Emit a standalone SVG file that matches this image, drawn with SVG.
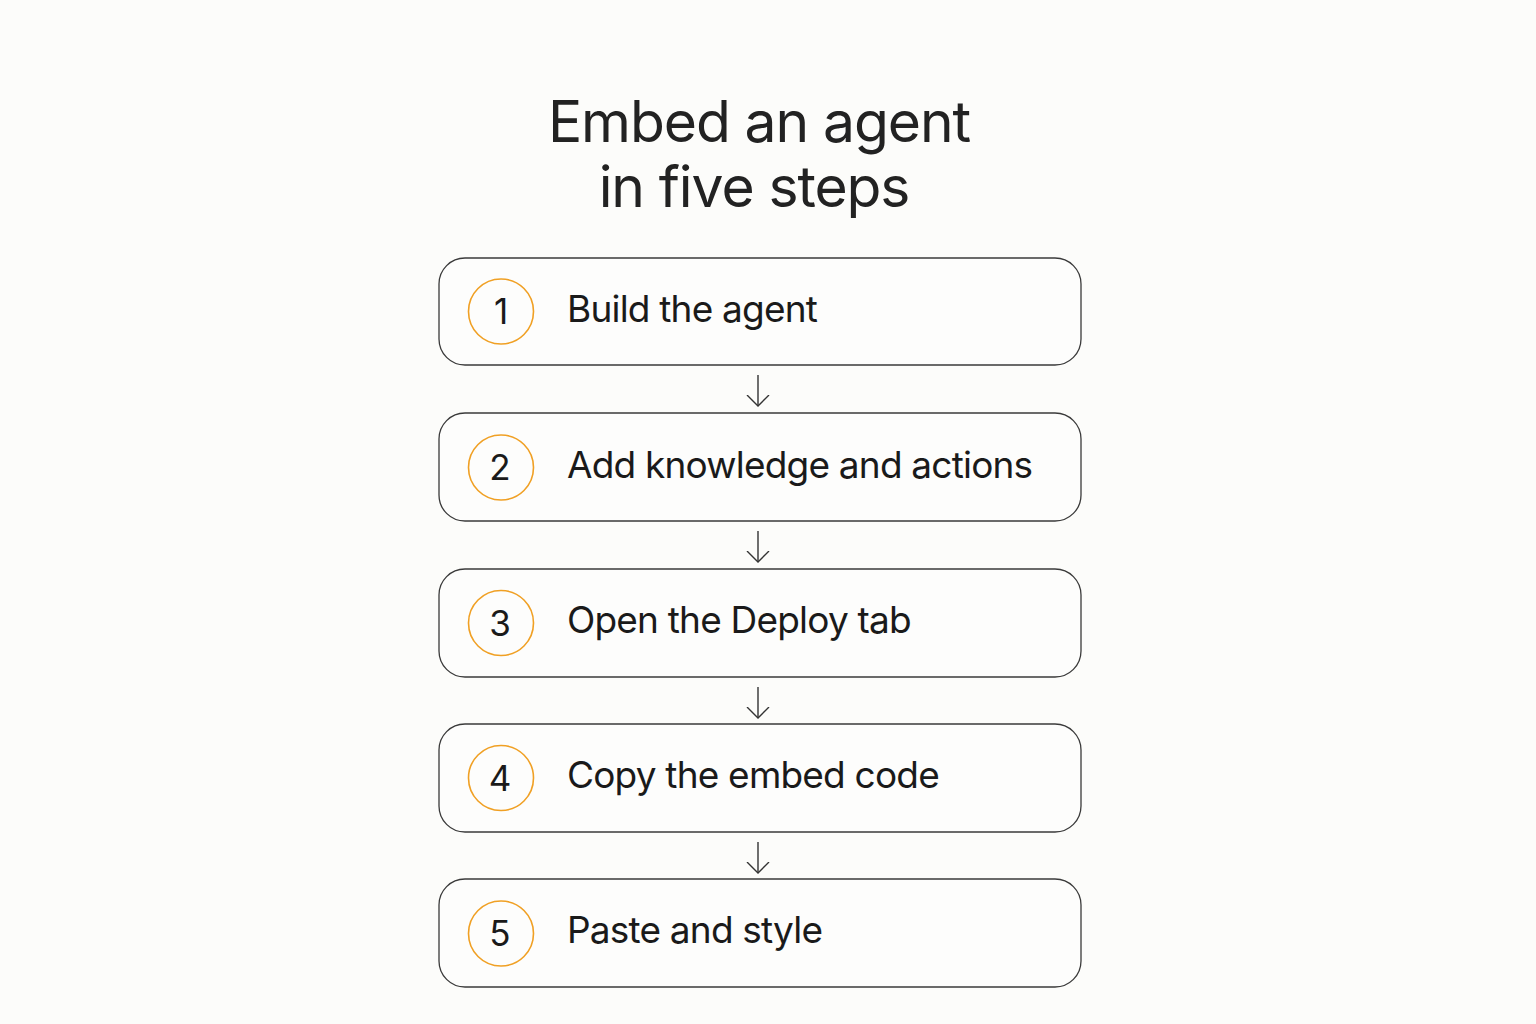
<svg xmlns="http://www.w3.org/2000/svg" width="1536" height="1024" viewBox="0 0 1536 1024">
<defs>
<style>
.title{font-family:Inter,"Liberation Sans",sans-serif;font-size:57px;fill:#222;text-anchor:middle;letter-spacing:-1.1px}
.box{fill:#fdfdfc;stroke:#3a3a3a;stroke-width:1.3}
.num{fill:none;stroke:#f0a024;stroke-width:1.6}
.digit{font-family:Inter,"Liberation Sans",sans-serif;font-size:35px;fill:#1a1a1a;text-anchor:middle}
.label{font-family:Inter,"Liberation Sans",sans-serif;font-size:37px;fill:#1a1a1a;letter-spacing:-0.8px}
.conn{fill:none;stroke:#333;stroke-width:1.4}
</style>
<marker id="arr" markerWidth="24" markerHeight="26" refX="11" refY="12" orient="auto" markerUnits="userSpaceOnUse">
<path d="M0,1 L11,12 L0,23" fill="none" stroke="#333" stroke-width="1.4"/>
</marker>
</defs>
<rect width="1536" height="1024" fill="#fcfcfa"/>
<g id="title">
<text class="title" x="759" y="142">Embed an agent</text>
<text class="title" x="754" y="207">in five steps</text>
</g>
<g id="step1">
<rect class="box" x="439" y="258" width="642" height="107" rx="26"/>
<circle class="num" cx="501" cy="311.5" r="32.5"/>
<text class="digit" x="501" y="324">1</text>
<text class="label" x="567" y="322">Build the agent</text>
</g>
<g id="step2">
<rect class="box" x="439" y="413" width="642" height="108" rx="26"/>
<circle class="num" cx="501" cy="467.5" r="32.5"/>
<text class="digit" x="500" y="480">2</text>
<text class="label" x="567" y="478">Add knowledge and actions</text>
</g>
<g id="step3">
<rect class="box" x="439" y="569" width="642" height="108" rx="26"/>
<circle class="num" cx="501" cy="623" r="32.5"/>
<text class="digit" x="500" y="636">3</text>
<text class="label" x="567" y="633">Open the Deploy tab</text>
</g>
<g id="step4">
<rect class="box" x="439" y="724" width="642" height="108" rx="26"/>
<circle class="num" cx="501" cy="778" r="32.5"/>
<text class="digit" x="500" y="791">4</text>
<text class="label" x="567" y="788">Copy the embed code</text>
</g>
<g id="step5">
<rect class="box" x="439" y="879" width="642" height="108" rx="26"/>
<circle class="num" cx="501" cy="933.5" r="32.5"/>
<text class="digit" x="500" y="946">5</text>
<text class="label" x="567" y="943">Paste and style</text>
</g>
<g id="connectors">
<line class="conn" x1="758" y1="375" x2="758" y2="406" marker-end="url(#arr)"/>
<line class="conn" x1="758" y1="531" x2="758" y2="562" marker-end="url(#arr)"/>
<line class="conn" x1="758" y1="687" x2="758" y2="718" marker-end="url(#arr)"/>
<line class="conn" x1="758" y1="842" x2="758" y2="873" marker-end="url(#arr)"/>
</g>
</svg>
